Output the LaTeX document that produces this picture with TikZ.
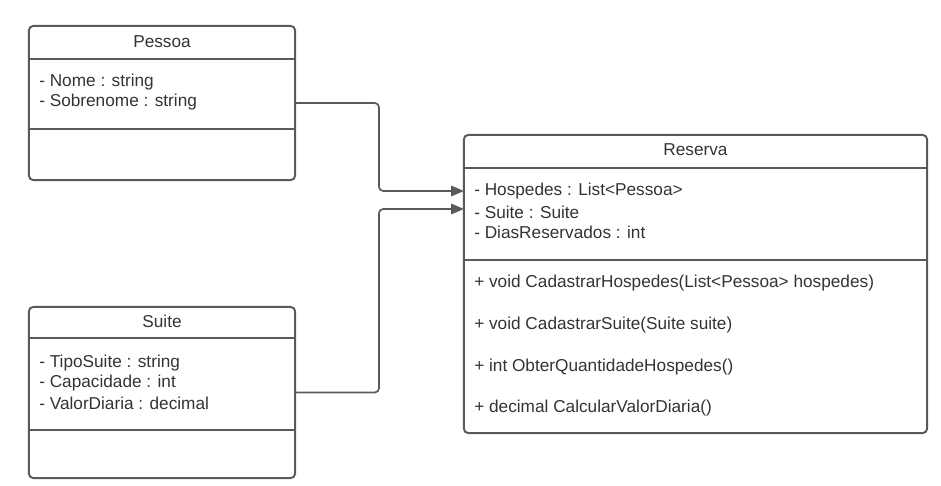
\documentclass[tikz,border=0pt]{standalone}
\usepackage{fontspec}
\setmainfont{Liberation Sans}
\usetikzlibrary{arrows.meta}
\definecolor{umlline}{HTML}{5A5A5A}
\definecolor{umltext}{HTML}{333333}
\tikzset{
  umlbox/.style={draw=umlline, line width=1.4pt, rounded corners=3pt, inner sep=0pt},
  umltxt/.style={anchor=west, inner sep=0pt, text=umltext, font=\fontsize{12.25}{14}\selectfont},
  umltitle/.style={inner sep=0pt, text=umltext, font=\fontsize{12.25}{14}\selectfont},
  assoc/.style={draw=umlline, line width=1.2pt, rounded corners=3pt,
    -{Triangle[length=0.32cm,width=0.26cm]}}
}
\begin{document}
\begin{tikzpicture}[x=0.025cm, y=-0.025cm]
    \useasboundingbox (0,0) rectangle (941,486);

        % Class Pessoa
        \node[umlbox, minimum width=6.65cm, minimum height=3.85cm] (pessoa) at (162,103) {};
        \draw[umlline, line width=1.4pt] (pessoa.west |- 0,59)  -- (pessoa.east |- 0,59);
        \draw[umlline, line width=1.4pt] (pessoa.west |- 0,129) -- (pessoa.east |- 0,129);
        \node[umltitle] (pessoaname) at (162,42) {Pessoa};
        \node[umltxt] (nome)      at (39,82)  {- Nome : string};
        \node[umltxt] (sobrenome) at (39,102) {- Sobrenome : string};

        % Class Suite
        \node[umlbox, minimum width=6.65cm, minimum height=4.275cm] (suite) at (162,392.5) {};
        \draw[umlline, line width=1.4pt] (suite.west |- 0,338) -- (suite.east |- 0,338);
        \draw[umlline, line width=1.4pt] (suite.west |- 0,430) -- (suite.east |- 0,430);
        \node[umltitle] (suitename) at (162,321) {Suite};
        \node[umltxt] (tiposuite)   at (39,363) {- TipoSuite : string};
        \node[umltxt] (capacidade)  at (39,383) {- Capacidade : int};
        \node[umltxt] (valordiaria) at (39,403) {- ValorDiaria : decimal};

        % Class Reserva
        \node[umlbox, minimum width=11.575cm, minimum height=7.45cm] (reserva) at (695.5,284) {};
        \draw[umlline, line width=1.4pt] (reserva.west |- 0,168) -- (reserva.east |- 0,168);
        \draw[umlline, line width=1.4pt] (reserva.west |- 0,260) -- (reserva.east |- 0,260);
        \node[umltitle] (reservaname) at (695.5,150) {Reserva};
        \node[umltxt] (hospedes) at (474,191) {- Hospedes : List<Pessoa>};
        \node[umltxt] (suiteref) at (474,212) {- Suite : Suite};
        \node[umltxt] (dias)     at (474,232) {- DiasReservados : int};
        \node[umltxt] (cadhosp)  at (474,283) {+ void CadastrarHospedes(List<Pessoa> hospedes)};
        \node[umltxt] (cadsuite) at (474,325) {+ void CadastrarSuite(Suite suite)};
        \node[umltxt] (obterqtd) at (474,367) {+ int ObterQuantidadeHospedes()};
        \node[umltxt] (calcval)  at (474,408) {+ decimal CalcularValorDiaria()};

        % Associations
        \coordinate (inpessoa) at (464,191);
        \coordinate (insuite)  at (464,209);
        \draw[assoc] (pessoa.east) -| (379,150) |- (inpessoa);
        \draw[assoc] (suite.east)  -| (379,300) |- (insuite);

    \end{tikzpicture}
\end{document}
